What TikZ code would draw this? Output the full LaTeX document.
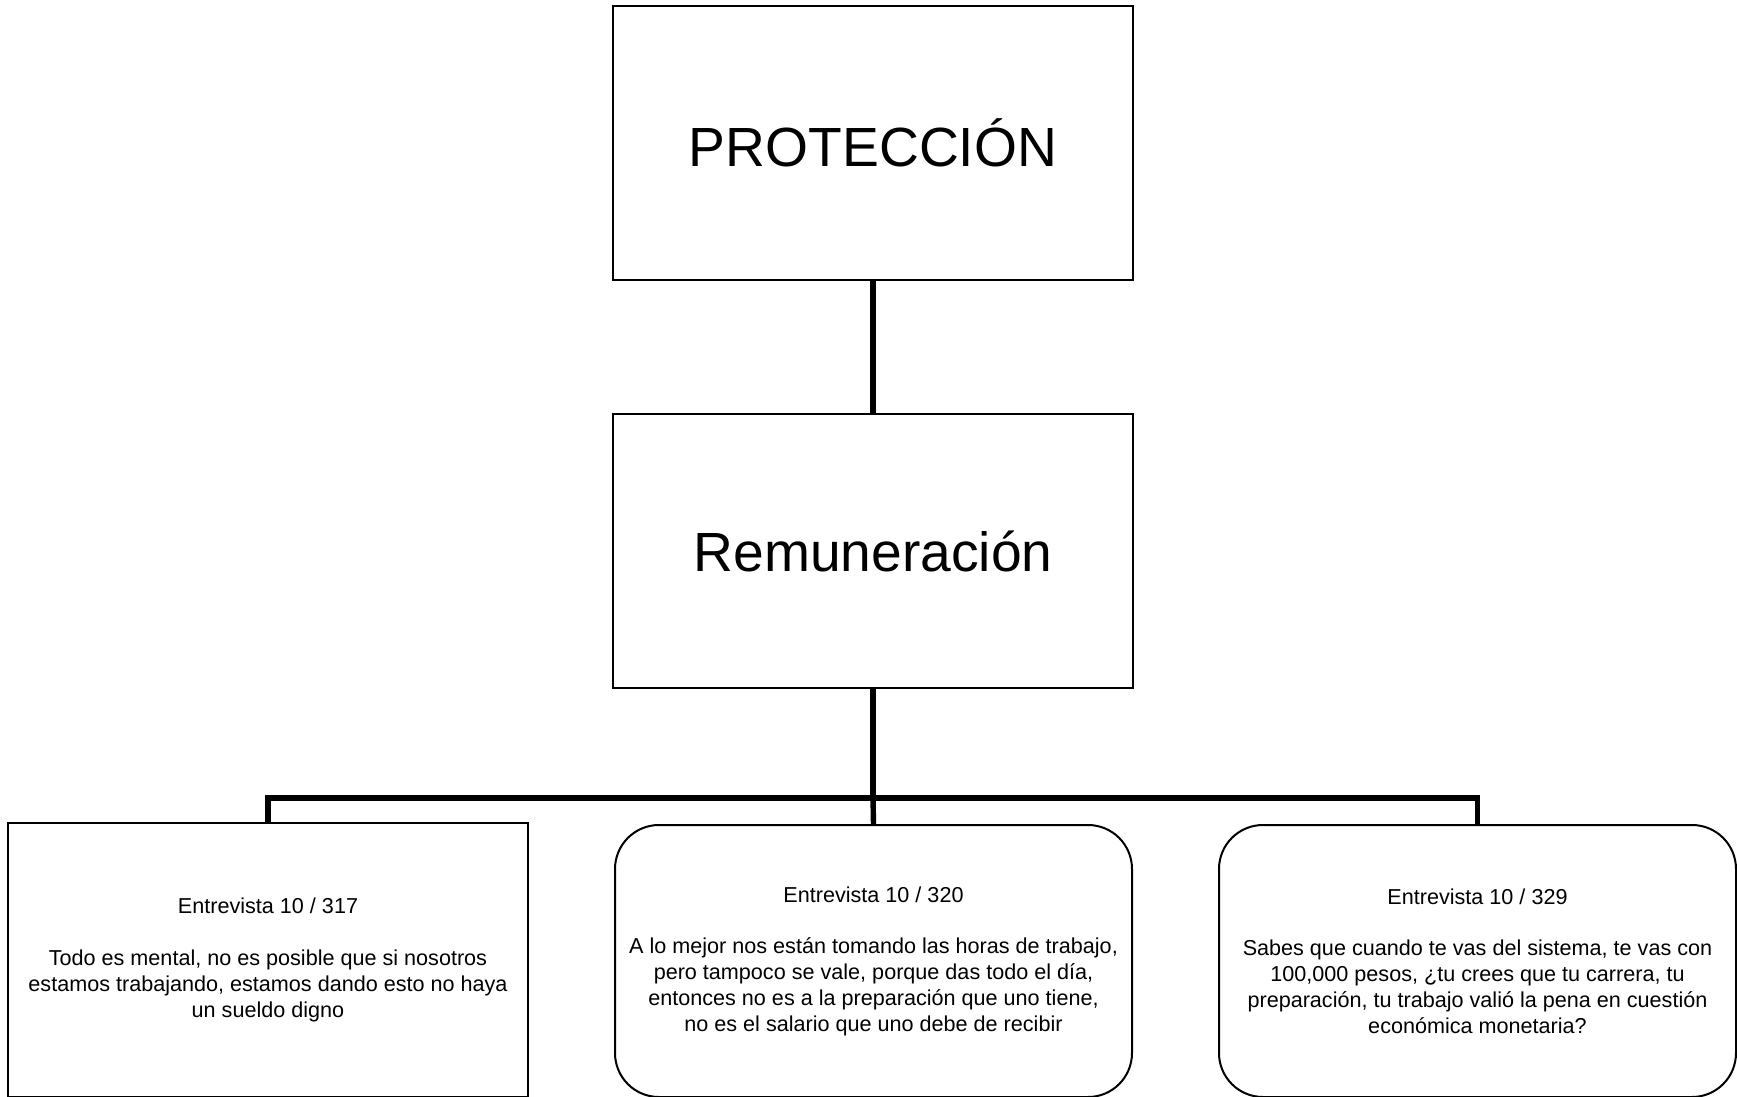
\documentclass[tikz,border=0pt]{standalone}
\usepackage{fontspec}
\setmainfont{Liberation Sans}
\begin{document}
\begin{tikzpicture}[x=0.5pt,y=-0.5pt,
  bigbox/.style={draw=black,line width=1pt,minimum width=260pt,minimum height=137pt,inner sep=0pt,font=\fontsize{27.6}{32}\selectfont},
  quote/.style={draw=black,line width=1pt,minimum width=260pt,minimum height=137pt,inner sep=0pt,align=center,font=\fontsize{10.8}{12.9}\selectfont},
  roundq/.style={quote,minimum width=258.5pt,minimum height=136pt,rounded corners=22pt},
  link/.style={line width=2.7pt}]
\useasboundingbox (0,0) rectangle (1737,1097);
\node[bigbox] (top) at (873,143) {PROTECCIÓN};
\node[bigbox] (mid) at (873,551) {Remuneración};
\node[quote] (lb) at (268,960) {Entrevista 10 / 317\\[12.9pt]Todo es mental, no es posible que si nosotros\\estamos trabajando, estamos dando esto no haya\\un sueldo digno};
\node[roundq] (mb) at (873.5,961) {Entrevista 10 / 320\\[12.9pt]A lo mejor nos están tomando las horas de trabajo,\\pero tampoco se vale, porque das todo el día,\\entonces no es a la preparación que uno tiene,\\no es el salario que uno debe de recibir};
\node[roundq] (rb) at (1477.5,961) {Entrevista 10 / 329\\[12.9pt]Sabes que cuando te vas del sistema, te vas con\\100,000 pesos, ¿tu crees que tu carrera, tu\\preparación, tu trabajo valió la pena en cuestión\\económica monetaria?};
\coordinate (bus) at (873,798);
\draw[link] (top.south) -- (mid.north);
\draw[link] (mid.south) -- (bus);
\draw[link] (lb.north) |- (bus) -| (rb.north);
\draw[link] (bus) -- (mb.north);
\end{tikzpicture}
\end{document}
